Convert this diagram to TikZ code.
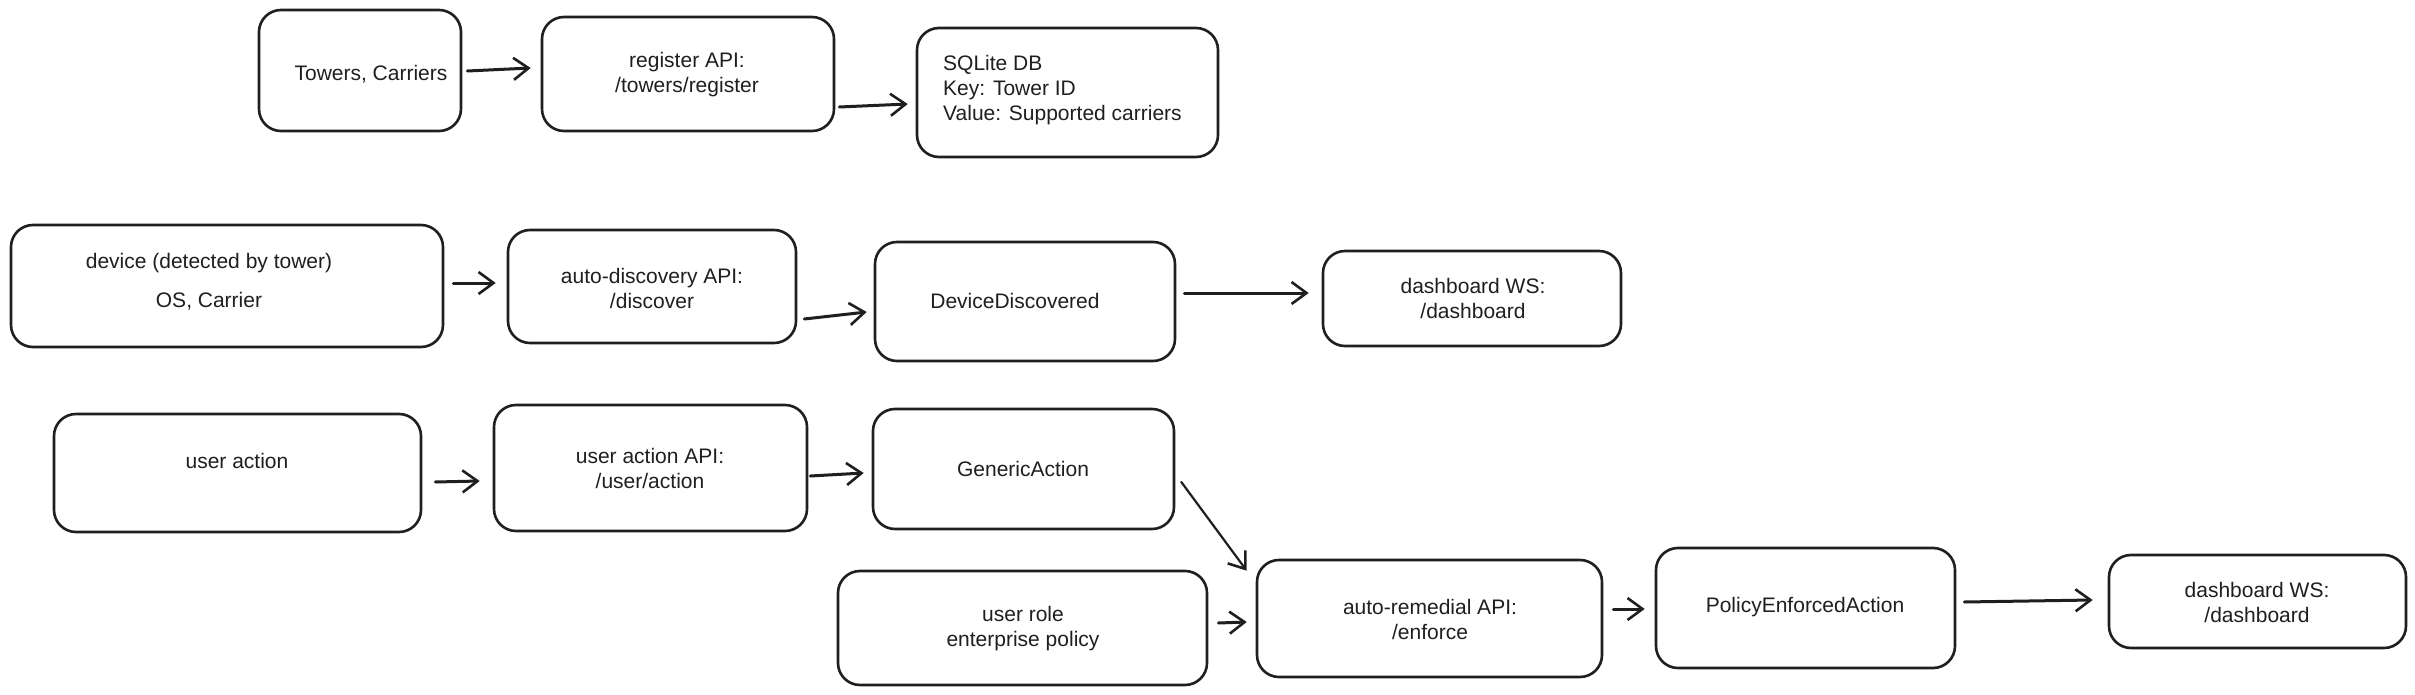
\documentclass[tikz,border=0pt]{standalone}
\usepackage{fontspec}
\setmainfont{Liberation Sans}
\usetikzlibrary{arrows.meta,calc}
\tikzset{
  box/.style={draw=black!88, line width=2.6pt, rounded corners=22pt, inner sep=0pt},
  txt/.style={font=\fontsize{21}{25}\selectfont, text=black!88, inner sep=0pt, align=center},
  arr/.style={draw=black!88, line width=3pt, line cap=round,
    -{Straight Barb[length=15pt,width=22pt,line width=2.6pt]}}
}
\begin{document}
\begin{tikzpicture}[x=1pt,y=-1pt]
\useasboundingbox[fill=white] (0,0) rectangle (2415,695);
% boxes
\node[box, minimum width=202pt, minimum height=121pt] (towers) at (360,70.5) {};
\node[box, minimum width=292pt, minimum height=114pt] (reg) at (688,74) {};
\node[box, minimum width=301pt, minimum height=129pt] (sqlite) at (1067.5,92.5) {};
\node[box, minimum width=432pt, minimum height=122pt] (device) at (227,286) {};
\node[box, minimum width=288pt, minimum height=113pt] (autodisc) at (652,286.5) {};
\node[box, minimum width=300pt, minimum height=119pt] (devdisc) at (1025,301.5) {};
\node[box, minimum width=298pt, minimum height=95pt] (dashA) at (1472,298.5) {};
\node[box, minimum width=367pt, minimum height=118pt] (useraction) at (237.5,473) {};
\node[box, minimum width=313pt, minimum height=126pt] (uaapi) at (650.5,468) {};
\node[box, minimum width=301pt, minimum height=120pt] (generic) at (1023.5,469) {};
\node[box, minimum width=369pt, minimum height=114pt] (userrole) at (1022.5,628) {};
\node[box, minimum width=345pt, minimum height=117pt] (remedial) at (1429.5,618.5) {};
\node[box, minimum width=299pt, minimum height=120pt] (policy) at (1805.5,608) {};
\node[box, minimum width=297pt, minimum height=93pt] (dashB) at (2257.5,601.5) {};
% texts
\node[txt] (towers-t) at (371,74) {Towers, Carriers};
\node[txt] (reg-t) at (687,74.5) {register API:\\/towers/register};
\node[txt, align=left, anchor=west] (sqlite-t) at (943,90.5) {SQLite DB\\Key: Tower ID\\Value: Supported carriers};
\node[txt] (device-t) at (209,281.5) {device (detected by tower)\\[14pt]OS, Carrier};
\node[txt] (autodisc-t) at (652,288) {auto-discovery API:\\/discover};
\node[txt] (devdisc-t) at (1015,301) {DeviceDiscovered};
\node[txt] (dashA-t) at (1473,298) {dashboard WS:\\/dashboard};
\node[txt] (useraction-t) at (237,461) {user action};
\node[txt] (uaapi-t) at (650,468.5) {user action API:\\/user/action};
\node[txt] (generic-t) at (1023,469) {GenericAction};
\node[txt] (userrole-t) at (1023,629) {user role\\enterprise policy};
\node[txt] (remedial-t) at (1430,619.5) {auto-remedial API:\\/enforce};
\node[txt] (policy-t) at (1805,607) {PolicyEnforcedAction};
\node[txt] (dashB-t) at (2257,602.5) {dashboard WS:\\/dashboard};
% arrows
\draw[arr] ($(towers.east)+(5,0.5)$) -- ($(reg.west)+(-10,-6)$);
\draw[arr] ($(reg.east)+(4,33)$) -- ($(sqlite.west)+(-8,11.5)$);
\draw[arr] ($(device.east)+(9,-3)$) -- ($(autodisc.west)+(-11,-3.5)$);
\draw[arr] ($(autodisc.east)+(7,32.5)$) -- ($(devdisc.west)+(-7,10.5)$);
\draw[arr] ($(devdisc.east)+(8,-8.5)$) -- ($(dashA.west)+(-13,-5.5)$);
\draw[arr] ($(useraction.east)+(13,9)$) -- ($(uaapi.west)+(-13,13)$);
\draw[arr] ($(uaapi.east)+(2,8)$) -- ($(generic.west)+(-8,4)$);
\draw[arr, line width=2.2pt] ($(generic.east)+(6,13)$) -- ($(remedial.north west)+(-9,12)$);
\draw[arr] ($(userrole.east)+(10,-5)$) -- ($(remedial.west)+(-9,3.5)$);
\draw[arr] ($(remedial.east)+(10,-9.5)$) -- ($(policy.west)+(-10,1)$);
\draw[arr] ($(policy.east)+(8,-6)$) -- ($(dashB.west)+(-15,-1.5)$);
\end{tikzpicture}
\end{document}
